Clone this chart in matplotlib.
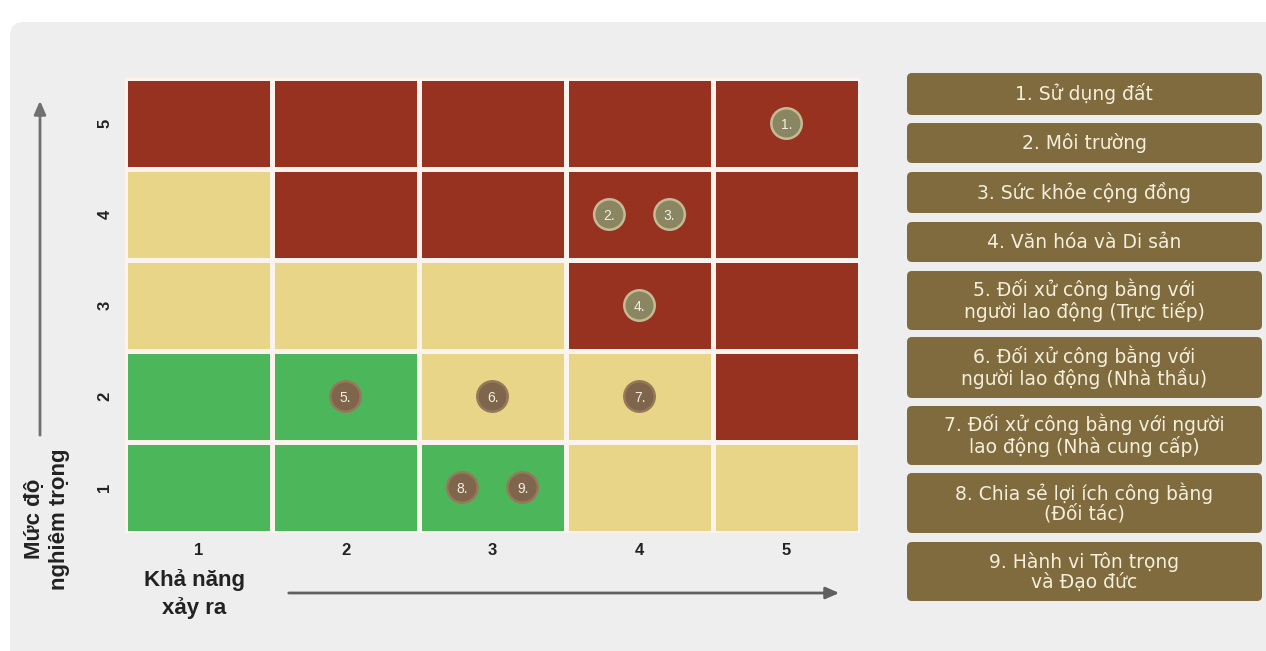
import matplotlib
matplotlib.use("Agg")
import matplotlib.pyplot as plt
from matplotlib.colors import ListedColormap
from matplotlib.patches import FancyBboxPatch, FancyArrowPatch
import numpy as np

plt.rcParams['font.family'] = ['Liberation Sans', 'DejaVu Sans']

# mức rủi ro cho từng ô: hàng = mức độ nghiêm trọng 1..5, cột = khả năng xảy ra 1..5
# 0 = xanh (thấp), 1 = vàng (trung bình), 2 = đỏ (cao)
muc_rui_ro = [
    [0, 0, 0, 1, 1],   # nghiêm trọng 1
    [0, 0, 1, 1, 2],   # nghiêm trọng 2
    [1, 1, 1, 2, 2],   # nghiêm trọng 3
    [1, 2, 2, 2, 2],   # nghiêm trọng 4
    [2, 2, 2, 2, 2],   # nghiêm trọng 5
]
muc = [1, 2, 3, 4, 5]

# các hạng mục đánh giá
ma_so = [1, 2, 3, 4, 5, 6, 7, 8, 9]
kha_nang = [5, 4, 4, 4, 2, 3, 4, 3, 3]
nghiem_trong = [5, 4, 4, 3, 2, 2, 2, 1, 1]
chu_giai = [
    "1. Sử dụng đất",
    "2. Môi trường",
    "3. Sức khỏe cộng đồng",
    "4. Văn hóa và Di sản",
    "5. Đối xử công bằng với\nngười lao động (Trực tiếp)",
    "6. Đối xử công bằng với\nngười lao động (Nhà thầu)",
    "7. Đối xử công bằng với người\nlao động (Nhà cung cấp)",
    "8. Chia sẻ lợi ích công bằng\n(Đối tác)",
    "9. Hành vi Tôn trọng\nvà Đạo đức",
]

mau_o = ListedColormap(["#4cb75a", "#e9d587", "#983220"])

fig = plt.figure(figsize=(12.66, 6.51), dpi=100)
fig.patch.set_facecolor("white")

# lớp nền theo toạ độ pixel
bg = fig.add_axes([0, 0, 1, 1])
bg.set_xlim(0, 1266)
bg.set_ylim(651, 0)
bg.axis("off")
bg.add_patch(FancyBboxPatch((10, 22), 1300, 650, boxstyle="round,pad=0,rounding_size=14",
                            facecolor="#eeeeee", edgecolor="none"))

# mũi tên trục
bg.add_patch(FancyArrowPatch((40, 438), (40, 98), arrowstyle="-|>,head_length=8,head_width=3.5",
                             color="#707070", lw=2, mutation_scale=1))
bg.add_patch(FancyArrowPatch((286, 593), (842, 593), arrowstyle="-|>,head_length=8,head_width=3.5",
                             color="#606060", lw=2, mutation_scale=1))

# nhãn trục
bg.text(194, 594, "Khả năng\nxảy ra", ha="center", va="center", fontsize=16,
        fontweight="bold", color="#222222", linespacing=1.3)
bg.text(47, 519, "Mức độ\nnghiêm trọng", ha="center", va="center", fontsize=16,
        fontweight="bold", color="#222222", rotation=90, linespacing=1.3)

# hộp chú giải
hop_y = [(73, 115), (123, 163), (172, 213), (222, 262), (271, 330),
         (337, 398), (406, 465), (473, 533), (542, 601)]
for (y0, y1), txt in zip(hop_y, chu_giai):
    bg.add_patch(FancyBboxPatch((907, y0), 355, y1 - y0, boxstyle="round,pad=0,rounding_size=5",
                                facecolor="#7f6b3e", edgecolor="none"))
    bg.text(1084, (y0 + y1) / 2, txt, ha="center", va="center", fontsize=13.5,
            color="#f5efdc", linespacing=1.05, family=["DejaVu Sans"])

# ma trận rủi ro
ax = fig.add_axes([125 / 1266, 1 - 533 / 651, 735 / 1266, 455 / 651])
ax.set_facecolor("none")
ax.pcolormesh(np.arange(0.5, 6), np.arange(0.5, 6), np.array(muc_rui_ro), cmap=mau_o,
              vmin=-0.5, vmax=2.5, edgecolors="#fbf3ee", linewidth=2.5)
ax.set_xlim(0.5, 5.5)
ax.set_ylim(0.5, 5.5)
ax.set_xticks(muc)
ax.set_yticks(muc)
ax.set_xticklabels([str(m) for m in muc], fontsize=12, fontweight="bold", color="#222222")
ax.set_yticklabels([str(m) for m in muc], fontsize=12, fontweight="bold", color="#222222",
                   rotation=90, va="center")
ax.tick_params(axis="x", length=0, pad=7)
ax.tick_params(axis="y", length=0, pad=9)
for s in ax.spines.values():
    s.set_visible(False)

# vị trí các điểm: dàn đều khi nhiều mục chung một ô
o_chung = {}
for i, (x, y) in enumerate(zip(kha_nang, nghiem_trong)):
    o_chung.setdefault((x, y), []).append(i)
px = np.zeros(len(ma_so))
py = np.zeros(len(ma_so))
for (x, y), ds in o_chung.items():
    n = len(ds)
    for k, i in enumerate(ds):
        px[i] = x + (k - (n - 1) / 2) * 0.41
        py[i] = y

# điểm trên ô đỏ có màu ô liu, còn lại màu nâu
do = [muc_rui_ro[y - 1][x - 1] == 2 for x, y in zip(kha_nang, nghiem_trong)]
mau_diem = ["#8a8662" if d else "#7e654b" for d in do]
vien_diem = ["#c4bb95" if d else "#96795a" for d in do]
ax.scatter(px, py, s=480, color=mau_diem, edgecolors=vien_diem, linewidths=1.8, zorder=3)
for i, m in enumerate(ma_so):
    ax.text(px[i], py[i], f"{m}.", ha="center", va="center_baseline", fontsize=10,
            color="#f3efe2", zorder=4)

plt.savefig("out.png", dpi=100)
